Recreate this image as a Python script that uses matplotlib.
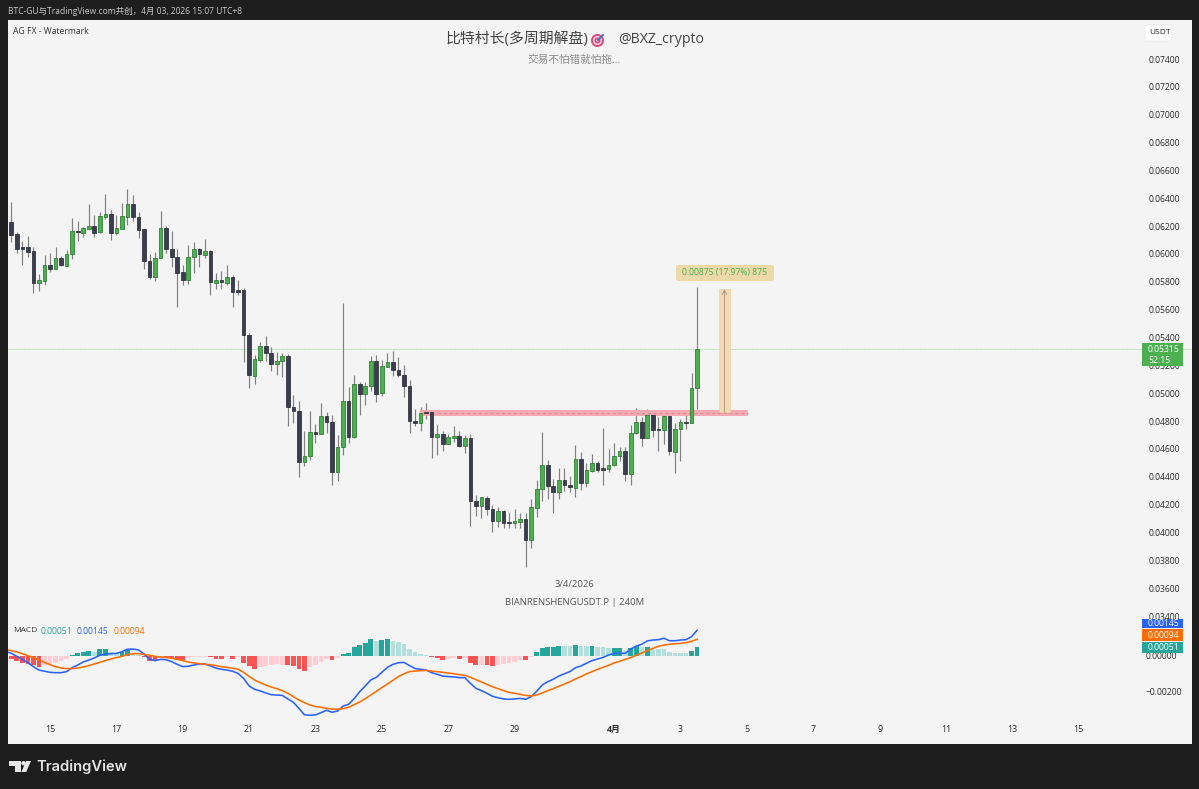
import numpy as np
import matplotlib
matplotlib.use("Agg")
import matplotlib.pyplot as plt
from matplotlib.patches import Rectangle, FancyBboxPatch, Circle, Polygon

# ---- data: prices and MACD are in units of 0.00001 ----
opens = [6227,6141,6048,6048,6019,5794,5808,5921,5894,5971,
         5916,5997,6167,6153,6182,6201,6155,6268,6285,6148,
         6179,6268,6359,6268,6179,5947,5837,5973,6186,6038,
         5981,5870,5815,5976,6036,5995,6024,5794,5813,5794,
         5832,5739,5741,5418,5123,5238,5341,5291,5207,5229,
         5267,4901,4872,4508,4549,4719,4709,4834,4795,4431,
         4611,4944,4685,5066,4992,5052,5229,5001,5188,5224,
         5166,5133,5049,4800,4786,4862,4862,4688,4707,4637,
         4680,4695,4623,4678,4228,4187,4250,4168,4082,4151,
         4075,4065,4075,4094,3943,4175,4309,4487,4333,4293,
         4374,4343,4319,4530,4357,4441,4496,4460,4458,4484,
         4546,4585,4422,4714,4791,4680,4841,4745,4738,4836,
         4580,4743,4795,4789,5035]
closes = [6136,6036,6038,6014,5794,5811,5921,5892,5971,5918,
          6000,6167,6155,6186,6201,6153,6273,6285,6153,6184,
          6273,6359,6265,6172,5949,5837,5971,6186,6038,5976,
          5866,5815,5981,6033,6000,6024,5796,5815,5796,5832,
          5727,5727,5418,5128,5243,5341,5291,5207,5231,5267,
          4901,4870,4508,4546,4719,4709,4834,4793,4434,4611,
          4944,4685,5066,4992,5052,5229,4996,5193,5222,5166,
          5131,5052,4800,4786,4858,4855,4688,4707,4637,4683,
          4695,4618,4676,4228,4187,4252,4168,4082,4151,4070,
          4070,4080,4094,3943,4180,4309,4487,4333,4293,4374,
          4341,4324,4530,4357,4446,4496,4451,4451,4487,4551,
          4585,4422,4714,4791,4680,4841,4736,4736,4834,4582,
          4745,4795,4788,5035,5315]
highs = [6373,6158,6095,6129,6048,5856,5993,6009,6048,5985,
         6028,6261,6234,6196,6359,6277,6301,6431,6316,6277,
         6364,6467,6421,6304,6179,6000,6012,6306,6201,6167,
         6033,5918,6062,6088,6043,6107,6028,5861,5880,5921,
         5846,5813,5755,5435,5274,5370,5411,5329,5298,5286,
         5281,4984,4946,4731,4874,4776,4932,4862,4843,4702,
         5645,5042,5133,5083,5083,5267,5274,5238,5291,5305,
         5257,5205,5095,4884,4898,4927,4865,4771,4726,4707,
         4764,4731,4697,4707,4271,4257,4262,4194,4185,4161,
         4142,4171,4137,4137,4238,4376,4724,4520,4381,4465,
         4460,4405,4625,4578,4501,4563,4515,4750,4601,4640,
         4611,4616,4769,4891,4827,4886,4867,4831,4850,4846,
         4783,4812,4865,5148,5765]
lows = [6088,6009,5921,5976,5722,5736,5775,5870,5890,5914,
        5914,5966,6095,6122,6177,6124,6153,6249,6100,6134,
        6177,6206,6239,6115,5892,5820,5803,5971,6005,5909,
        5621,5777,5784,5861,5909,5969,5708,5746,5746,5775,
        5621,5703,5226,5035,5066,5226,5233,5162,5131,5114,
        4764,4783,4400,4479,4520,4640,4707,4716,4341,4372,
        4554,4640,4676,4843,4917,5018,4937,4982,5186,5123,
        5114,4970,4712,4764,4731,4817,4534,4558,4587,4635,
        4652,4611,4573,4046,4118,4104,4123,4003,4036,4032,
        4032,4032,4032,3754,3888,4113,4228,4238,4137,4238,
        4300,4293,4257,4305,4329,4436,4434,4338,4436,4477,
        4510,4372,4338,4704,4621,4676,4688,4582,4635,4558,
        4424,4513,4745,4784,4884]

# MACD and signal start one bar before the first candle
macd_line = [26,15,-2,-19,-38,-60,-79,-86,-92,-94,-94,-88,
             -66,-51,-34,-23,-11,4,11,13,15,24,
             38,39,34,11,-19,-26,-19,-21,-32,-47,
             -60,-58,-51,-45,-45,-56,-68,-75,-79,-86,
             -98,-126,-169,-188,-197,-208,-218,-220,-222,-242,
             -261,-295,-331,-334,-332,-319,-306,-317,-310,-282,
             -272,-240,-201,-169,-135,-120,-92,-64,-47,-38,
             -36,-54,-71,-75,-79,-94,-103,-113,-116,-118,
             -122,-122,-154,-182,-195,-210,-227,-235,-242,-244,
             -242,-239,-244,-229,-199,-163,-145,-131,-113,-100,
             -88,-66,-56,-41,-26,-17,-8,6,15,15,
             15,39,56,66,85,90,92,100,86,86,
             90,92,109,145]
signal_line = [38,30,23,13,2,-9,-23,-36,-49,-60,-68,-71,
               -71,-68,-62,-54,-45,-36,-26,-17,-9,-2,
               8,13,13,9,4,-2,-6,-8,-13,-19,
               -26,-34,-39,-43,-47,-49,-54,-60,-64,-69,
               -75,-92,-115,-135,-150,-163,-175,-184,-195,-210,
               -229,-248,-263,-276,-285,-289,-295,-299,-300,-297,
               -289,-274,-259,-240,-220,-199,-178,-158,-137,-116,
               -100,-88,-85,-83,-81,-85,-88,-92,-96,-100,
               -105,-109,-120,-133,-146,-160,-173,-184,-195,-205,
               -210,-216,-222,-225,-220,-208,-195,-184,-171,-158,
               -145,-130,-116,-101,-88,-75,-64,-53,-39,-30,
               -19,-9,4,17,30,43,54,62,66,69,
               71,75,83,94]
hist = [-19,-28,-38,-43,-53,-62,-53,-45,-38,-30,
        -19,6,17,24,30,23,38,39,24,15,
        23,36,19,6,-4,-26,-26,-13,-9,-13,
        -19,-24,-13,-8,-6,-4,-8,-15,-19,-6,
        -19,-4,-38,-56,-71,-64,-56,-49,-47,-51,
        -53,-54,-75,-83,-64,-49,-34,-19,-24,-9,
        11,19,49,62,71,94,83,90,94,86,
        79,68,38,23,11,6,-6,-11,-21,-15,
        -9,-19,-9,-38,-51,-51,-53,-58,-53,-45,
        -41,-36,-23,-21,-4,21,45,53,53,56,
        54,54,62,56,56,56,53,49,47,47,
        47,30,47,54,53,53,41,41,41,23,
        19,17,17,30,51]
hist_momentum = ("1111110000" "0111101100" "1100111011" "1100001110"
                 "1011100000" "1111000010" "1111110110" "0000001110"
                 "0101101100" "0001011111" "0010010001" "1011010000" "00011")

price_ticks = [0.034 + 0.002 * k for k in range(21)]
macd_ticks = [0.0, -0.002]
macd_tick_labels = ["0.00000", "\u22120.00200"]
date_positions = [7, 19, 31, 43, 55, 67, 79, 91, 109, 121, 133, 145, 157, 169, 181, 193]
date_labels = ["15", "17", "19", "21", "23", "25", "27", "29", "4月", "3", "5", "7", "9", "11", "13", "15"]
zone_levels = (0.04836, 0.04858, 0.04879)
zone_span = (73.9, 133.2)
measure_span = (127.9, 130.0)
measure_levels = (0.04865, 0.05748)

# ---- setup ----
W, H = 1199, 789
BG = "#1e1e1e"
PANE = "#f4f4f4"
LAT = ["Open Sans", "Noto Sans CJK SC", "DejaVu Sans"]
plt.rcParams["font.family"] = LAT
fig = plt.figure(figsize=(W / 100, H / 100), dpi=100, facecolor=BG)
rect = [8 / W, 1 - 744 / H, (1191.5 - 8) / W, (744 - 20) / H]

ax = fig.add_axes(rect, facecolor=PANE, zorder=1)
ax2 = fig.add_axes(rect, facecolor="none", zorder=2)
for a in (ax, ax2):
    a.set_xlim(-0.6, 213.4)
    for s in a.spines.values():
        s.set_visible(False)
ax.set_ylim(0.02481, 0.076801)
ax2.set_ylim(-0.004958, 0.03583)

# ---- candles ----
o, c, hi, lo = [np.array(v) / 1e5 for v in (opens, closes, highs, lows)]
x = np.arange(len(o))
up = c >= o
ax.vlines(x, lo, hi, color="#808080", lw=0.85, zorder=3)
ax.bar(x[up], (c - o)[up], bottom=o[up], width=0.66, color="#4CAF50",
       edgecolor="#2A7A30", linewidth=0.55, zorder=4)
ax.bar(x[~up], (o - c)[~up], bottom=c[~up], width=0.66, color="#3B3E4E",
       edgecolor="#2A2E39", linewidth=0.55, zorder=4)

# ---- drawings ----
ax.axhline(c[-1], color="#A9D8AB", lw=0.7, ls=(0, (1, 0.6)), zorder=2)
ax.add_patch(Rectangle((zone_span[0], zone_levels[0]), zone_span[1] - zone_span[0],
                       zone_levels[2] - zone_levels[0], facecolor="#F4A9B2",
                       edgecolor="none", zorder=3))
ax.hlines(zone_levels[1], *zone_span, color="#D98C96", lw=0.7, ls=(0, (3, 3)), zorder=3)
ax.add_patch(Rectangle((measure_span[0], measure_levels[0]), measure_span[1] - measure_span[0],
                       measure_levels[1] - measure_levels[0], facecolor="#F6D9AE",
                       edgecolor="#EFCF9F", lw=0.4, zorder=3))
mid = sum(measure_span) / 2
ax.annotate("", xy=(mid, measure_levels[1]), xytext=(mid, measure_levels[0]),
            arrowprops=dict(arrowstyle="->", color="#A89C90", lw=0.7, mutation_scale=8,
                            shrinkA=0, shrinkB=0), zorder=5)

# ---- MACD ----
hist_arr = np.array(hist) / 1e5
cols = []
for v, m in zip(hist, hist_momentum):
    if v >= 0:
        cols.append("#26A69A" if m == "1" else "#B2DFDB")
    else:
        cols.append("#FF5252" if m == "1" else "#FFCDD2")
ax2.bar(np.arange(len(hist)), hist_arr, width=0.86, color=cols, zorder=2)
xm = np.arange(-1, len(macd_line) - 1)
ax2.plot(xm, np.array(macd_line) / 1e5, color="#2962FF", lw=1.15, zorder=3, solid_joinstyle="round")
ax2.plot(xm, np.array(signal_line) / 1e5, color="#FF6D00", lw=1.15, zorder=3, solid_joinstyle="round")

# ---- axes ticks ----
TICK = "#2b2b2b"
ax.yaxis.tick_right()
ax.set_yticks(price_ticks)
ax.set_yticklabels([f"{t:.5f}" for t in price_ticks], fontsize=6.2, color=TICK)
ax.tick_params(axis="y", length=0, pad=-31)
ax2.yaxis.tick_right()
ax2.set_yticks(macd_ticks)
ax2.set_yticklabels(macd_tick_labels, fontsize=6.2, color=TICK)
ax2.tick_params(axis="y", length=0, pad=-33)
ax2.set_xticks([])
ax.set_xticks(date_positions)
ax.set_xticklabels(date_labels, fontsize=6.4, color=TICK)
ax.tick_params(axis="x", length=0, pad=-13.5)
for lab in ax.get_xticklabels():
    if "月" in lab.get_text():
        lab.set_fontweight("bold")

# ---- overlay in pixel coordinates ----
ov = fig.add_axes([0, 0, 1, 1], facecolor="none", zorder=5)
ov.set_xlim(0, W)
ov.set_ylim(H, 0)
ov.axis("off")

def txt(px, py, s, size, color, ha="left", **kw):
    ov.text(px, py, s, fontsize=size, color=color, ha=ha, va="center", family=LAT, **kw)

txt(8, 11, "BTC-GU与TradingView.com共创，4月 03, 2026 15:07 UTC+8", 6.15, "#c8c8c8")
txt(13, 31, "AG FX - Watermark", 6.2, "#333333")
txt(446, 39.5, "比特村长(多周期解盘)", 10.7, "#444444")
txt(618, 39.5, "@BXZ_crypto", 10.2, "#444444")
txt(527, 60.5, "交易不怕错就怕拖…", 7.7, "#8a8a8a")
txt(574, 584.5, "3/4/2026", 6.8, "#555555", ha="center")
txt(574.5, 602.5, "BIANRENSHENGUSDT.P | 240M", 6.8, "#555555", ha="center")

# target emoji
for r, col in ((6.5, "#E0457B"), (4.6, "#F6D6E0"), (3.0, "#E0457B"), (1.3, "#F6D6E0")):
    ov.add_patch(Circle((597.5, 40.5), r, facecolor=col, edgecolor="none"))
ov.plot([598, 603], [40, 35], color="#4A78C8", lw=1.6, solid_capstyle="round")

# MACD legend
txt(13, 631, "MACD", 6.0, "#333333")
txt(41, 631, "0.00051", 6.2, "#26A69A")
txt(77, 631, "0.00145", 6.2, "#2962FF")
txt(114, 631, "0.00094", 6.2, "#FF6D00")

# USDT box
ov.add_patch(FancyBboxPatch((1145, 25), 27, 16, boxstyle="round,pad=0,rounding_size=2",
                            facecolor="white", edgecolor="#e8e8e8", lw=0.5))
txt(1160.5, 32.5, "USDT", 6.0, "#222222", ha="center")

# measure label
ov.add_patch(FancyBboxPatch((676, 265), 98, 16, boxstyle="round,pad=0,rounding_size=2.5",
                            facecolor="#ECD9A8", edgecolor="none"))
txt(725, 273, "0.00875 (17.97%) 875", 6.2, "#4CAF50", ha="center")

# price tags
ov.add_patch(Rectangle((1142, 343), 41, 23, facecolor="#4CAF50", edgecolor="none"))
txt(1148, 349.5, "0.05315", 6.2, "white")
txt(1148, 360, "52:15", 6.2, "white")
for y0, y1, col, s in ((619, 628, "#2962FF", "0.00145"), (629, 641, "#FF6D00", "0.00094"),
                       (642, 653, "#26A69A", "0.00051")):
    ov.add_patch(Rectangle((1142, y0), 41, y1 - y0, facecolor=col, edgecolor="none"))
    txt(1148, (y0 + y1) / 2, s, 6.2, "white")

# TradingView logo
LOGO = "#e6e6e6"
ov.add_patch(Polygon([(9.3, 761), (20.5, 761), (20.5, 772), (14.5, 772), (14.5, 766), (9.3, 766)],
                     facecolor=LOGO, edgecolor="none"))
ov.add_patch(Circle((23.5, 763.2), 2.2, facecolor=LOGO, edgecolor="none"))
ov.add_patch(Polygon([(26, 761), (31, 761), (26.2, 772), (21.4, 772)], facecolor=LOGO, edgecolor="none"))
ov.text(36, 767, "TradingView", fontsize=10.6, color=LOGO, ha="left", va="center",
        family="Inter", fontweight="semibold")

fig.savefig("out.png", dpi=100, facecolor=BG)
